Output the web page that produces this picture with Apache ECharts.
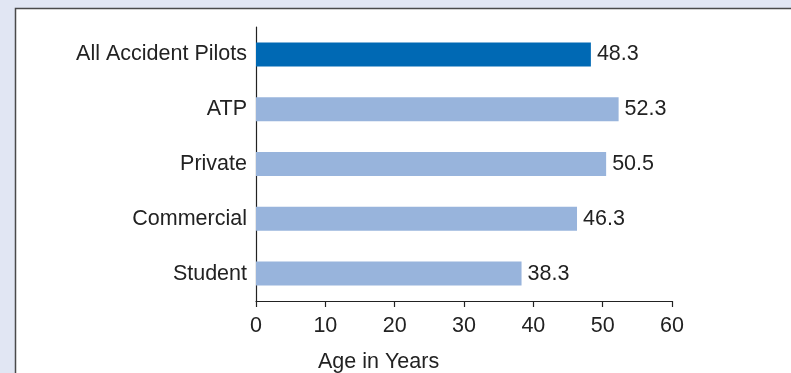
<!DOCTYPE html>
<html>
<head>
<meta charset="utf-8">
<script src="https://cdn.jsdelivr.net/npm/echarts@6/dist/echarts.min.js"></script>
<style>
html,body{margin:0;padding:0;background:#e1e6f3;}
#chart{width:791px;height:373px;}
</style>
</head>
<body>
<div id="chart"></div>
<script>
const categories = ["Student", "Commercial", "Private", "ATP", "All Accident Pilots"];
const values = [38.3, 46.3, 50.5, 52.3, 48.3];
const highlightCategory = "All Accident Pilots";
const xTicks = [0, 10, 20, 30, 40, 50, 60];
const axisTitle = "Age in Years";

const chart = echarts.init(document.getElementById('chart'), null, {renderer: 'canvas'});
const font = '"Liberation Sans", Arial, sans-serif';
const fs = 21.5;
chart.setOption({
  backgroundColor: '#e1e6f3',
  animation: false,
  graphic: [
    {type: 'rect', z: -10, shape: {x: 15.5, y: 8.5, width: 800, height: 400},
     style: {fill: '#ffffff', stroke: '#4a4a4a', lineWidth: 1.5}},
    {type: 'text', x: 318, y: 362,
     style: {text: axisTitle, font: fs + 'px ' + font, fill: '#222', textAlign: 'left', textVerticalAlign: 'middle'}}
  ],
  grid: {left: 256, right: 119, top: 27, bottom: 72, containLabel: false},
  xAxis: {
    type: 'value', min: xTicks[0], max: xTicks[xTicks.length - 1], interval: 10,
    axisLine: {show: true, lineStyle: {color: '#222', width: 1.2}},
    axisTick: {show: true, length: 6, lineStyle: {color: '#222', width: 1.2}},
    axisLabel: {color: '#222', fontSize: fs, fontFamily: font, margin: 14},
    splitLine: {show: false}
  },
  yAxis: {
    type: 'category', data: categories,
    axisLine: {show: true, lineStyle: {color: '#222', width: 1.2}},
    axisTick: {show: false},
    axisLabel: {color: '#222', fontSize: fs, fontFamily: font, margin: 9}
  },
  series: [{
    type: 'bar', barWidth: 24,
    data: values.map((v, i) => ({
      value: v,
      itemStyle: {color: categories[i] === highlightCategory ? '#0069b4' : '#98b4dc'}
    })),
    label: {show: true, position: 'right', distance: 6, color: '#222', fontSize: fs, fontFamily: font,
            formatter: p => p.value.toFixed(1)}
  }]
});
</script>
</body>
</html>
